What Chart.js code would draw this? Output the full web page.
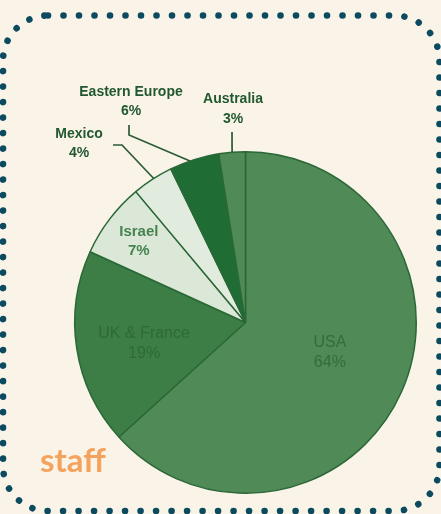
<!DOCTYPE html>
<html><head><meta charset="utf-8">
<script src="https://cdn.jsdelivr.net/npm/chart.js@4.4.1/dist/chart.umd.min.js"></script>
<style>
html,body{margin:0;padding:0;background:#faf3e8;}
#wrap{position:relative;width:441px;height:514px;overflow:hidden;}
canvas{display:block;}
</style></head><body>
<div id="wrap"><canvas id="c" width="441" height="514"></canvas></div>
<script>
// ---- data ----
const regions = ['USA', 'UK & France', 'Israel', 'Mexico', 'Eastern Europe', 'Australia'];
const labelPercents = [64, 19, 7, 4, 6, 3];          // printed percentages
const sliceShares = [63.3, 18.5, 7.1, 3.9, 4.7, 2.5]; // slice sizes as drawn
const sliceColors = ['#4f8a57', '#3c7e45', '#dbe8d7', '#e1ebde', '#1f6d35', '#4f8a57'];

// ---- label placement (styling, not data) ----
const insideLabels = {
  0: { r: 0.525, shift: -4.2, font: '16px "Liberation Sans", Arial, sans-serif', color: '#336d3c', gap: 20 },
  1: { r: 0.606, shift: -2.7, font: '16px "Liberation Sans", Arial, sans-serif', color: '#2e6a37', gap: 20 },
  2: { r: 0.785, shift: 0, font: 'bold 15px "Liberation Sans", Arial, sans-serif', color: '#478251', gap: 19 }
};
const outsideLabels = {
  3: { frac: 0.53, path: [[122, 145], [113, 145]], tx: 79, ty: 134, gap: 19 },
  4: { frac: 0.41, path: [[129, 135], [129, 125]], tx: 131, ty: 92, gap: 19 },
  5: { frac: 0.5, path: [[232, 132]], tx: 233, ty: 99, gap: 20 }
};

function roundRectPath(ctx, x, y, w, h, r) {
  ctx.beginPath();
  ctx.moveTo(x + r, y);
  ctx.lineTo(x + w - r, y);
  ctx.arcTo(x + w, y, x + w, y + r, r);
  ctx.lineTo(x + w, y + h - r);
  ctx.arcTo(x + w, y + h, x + w - r, y + h, r);
  ctx.lineTo(x + r, y + h);
  ctx.arcTo(x, y + h, x, y + h - r, r);
  ctx.lineTo(x, y + r);
  ctx.arcTo(x, y, x + r, y, r);
  ctx.closePath();
}

const decor = {
  id: 'decor',
  beforeDraw(chart) {
    const ctx = chart.ctx;
    ctx.save();
    ctx.fillStyle = '#faf3e8';
    ctx.fillRect(0, 0, chart.width, chart.height);
    ctx.restore();
  },
  afterDatasetsDraw(chart) {
    const ctx = chart.ctx;
    const meta = chart.getDatasetMeta(0);
    ctx.save();
    ctx.textAlign = 'center';
    ctx.textBaseline = 'middle';
    meta.data.forEach((arc, i) => {
      const p = arc.getProps(['x', 'y', 'startAngle', 'endAngle', 'outerRadius'], true);
      if (insideLabels[i]) {
        const L = insideLabels[i];
        const mid = (p.startAngle + p.endAngle) / 2 + L.shift * Math.PI / 180;
        const cx = p.x + Math.cos(mid) * p.outerRadius * L.r;
        const cy = p.y + Math.sin(mid) * p.outerRadius * L.r;
        ctx.font = L.font;
        ctx.fillStyle = L.color;
        ctx.fillText(regions[i], cx, cy - L.gap / 2);
        ctx.fillText(labelPercents[i] + '%', cx, cy + L.gap / 2);
      }
      if (outsideLabels[i]) {
        const L = outsideLabels[i];
        const a = p.startAngle + (p.endAngle - p.startAngle) * L.frac;
        const ax = p.x + Math.cos(a) * p.outerRadius;
        const ay = p.y + Math.sin(a) * p.outerRadius;
        ctx.strokeStyle = '#2a5c35';
        ctx.lineWidth = 1.7;
        ctx.beginPath();
        ctx.moveTo(ax, ay);
        L.path.forEach(pt => ctx.lineTo(pt[0], pt[1]));
        ctx.stroke();
        ctx.font = 'bold 14px "Liberation Sans", Arial, sans-serif';
        ctx.fillStyle = '#215830';
        ctx.fillText(regions[i], L.tx, L.ty);
        ctx.fillText(labelPercents[i] + '%', L.tx, L.ty + L.gap);
      }
    });
    ctx.restore();
  },
  afterDraw(chart) {
    const ctx = chart.ctx;
    ctx.save();
    ctx.strokeStyle = '#0b4a5f';
    ctx.lineWidth = 6.6;
    ctx.lineCap = 'round';
    ctx.setLineDash([0.001, 15.5]);
    roundRectPath(ctx, 3, 15.5, 436.5, 495.5, 45);
    ctx.stroke();
    ctx.setLineDash([]);
    ctx.font = '700 33px Lato, "Open Sans", sans-serif';
    ctx.fillStyle = '#f4a35e';
    ctx.textAlign = 'left';
    ctx.textBaseline = 'alphabetic';
    ctx.fillText('staff', 40, 472);
    ctx.restore();
  }
};

new Chart(document.getElementById('c'), {
  type: 'pie',
  data: {
    labels: regions,
    datasets: [{
      data: sliceShares,
      backgroundColor: sliceColors,
      borderColor: '#2b6837',
      borderWidth: 1.5
    }]
  },
  options: {
    responsive: false,
    devicePixelRatio: 1,
    animation: false,
    events: [],
    layout: { padding: { left: 74, right: 24, top: 151, bottom: 20 } },
    plugins: { legend: { display: false }, tooltip: { enabled: false } }
  },
  plugins: [decor]
});
</script>
</body></html>
